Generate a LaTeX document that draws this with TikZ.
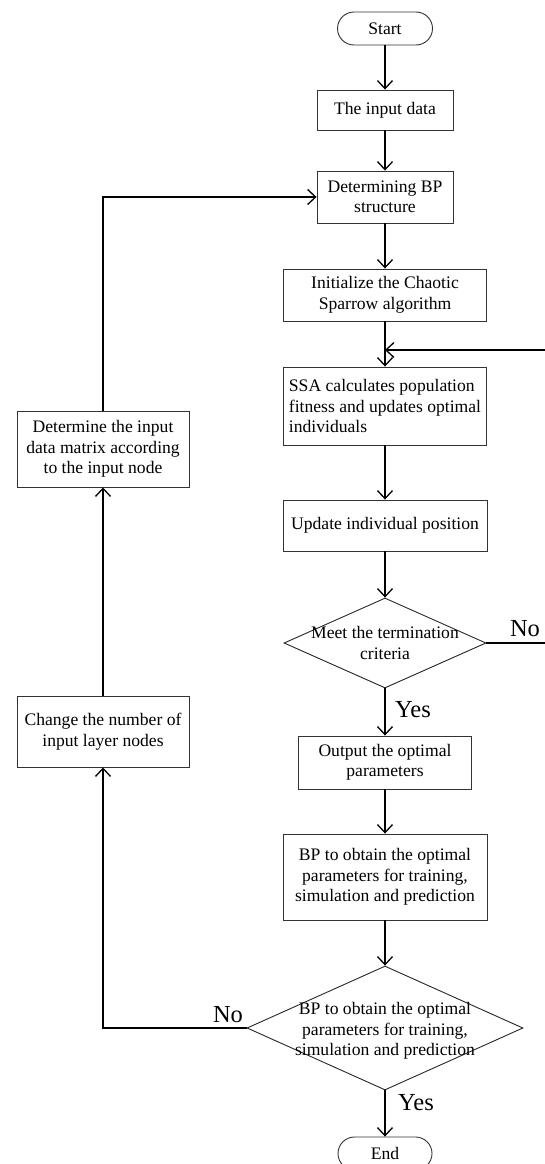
\documentclass[tikz,border=0pt]{standalone}
\usepackage{fontspec}
\setmainfont{Liberation Serif}
\usetikzlibrary{arrows.meta,shapes.geometric}
\begin{document}
\begin{tikzpicture}[x=1pt,y=-1pt,
  box/.style={draw=black!80, line width=0.9pt, rectangle, inner sep=0pt, align=center, font=\fontsize{17.6}{20.5}\selectfont},
  pill/.style={box, rounded corners=16.5pt},
  dia/.style={draw=black!85, line width=0.9pt, diamond, inner sep=0pt},
  txt/.style={font=\fontsize{17.6}{20.5}\selectfont, align=center, inner sep=0pt},
  yn/.style={font=\fontsize{24.5}{28}\selectfont, inner sep=0pt},
  conn/.style={line width=1.3pt, -{Straight Barb[length=8pt,width=15pt]}},
]
\useasboundingbox (0,0) rectangle (544,1164);

\node[pill, minimum width=95pt, minimum height=33pt] (start) at (385,28.5) {Start};
\node[box, minimum width=136pt, minimum height=40pt] (input) at (385,110) {The input data};
\node[box, minimum width=136pt, minimum height=52pt] (det) at (385,197) {Determining BP\\structure};
\node[box, minimum width=203pt, minimum height=52pt] (init) at (385,295) {Initialize the Chaotic\\Sparrow algorithm};
\node[box, minimum width=203pt, minimum height=78pt, align=left] (ssa) at (385,406) {SSA calculates population\\fitness and updates optimal\\individuals};
\node[box, minimum width=204pt, minimum height=51pt] (upd) at (385,525.5) {Update individual position};
\node[dia, minimum width=202pt, minimum height=90pt] (d1) at (385,643) {};
\node[txt] (d1t) at (385,643) {Meet the termination\\criteria};
\node[box, minimum width=173pt, minimum height=53pt] (out) at (385,762.5) {Output the optimal\\parameters};
\node[box, minimum width=204pt, minimum height=86pt] (bp) at (385,877) {BP to obtain the optimal\\parameters for training,\\simulation and prediction};
\node[dia, minimum width=276pt, minimum height=124pt] (d2) at (385,1028) {};
\node[txt] (d2t) at (385,1031) {BP to obtain the optimal\\parameters for training,\\simulation and prediction};
\node[pill, minimum width=94pt, minimum height=33pt] (end) at (385,1153.5) {End};
\node[box, minimum width=172pt, minimum height=76pt] (dim) at (103,449) {Determine the input\\data matrix according\\to the input node};
\node[box, minimum width=172pt, minimum height=71pt] (chg) at (103,731.5) {Change the number of\\input layer nodes};

\coordinate (r1) at (548,643);
\coordinate (r2) at (548,350);
\coordinate (j) at (385,350);
\coordinate (l1) at (103,1028);
\coordinate (l2) at (103,197);

\draw[conn] (start) -- (input);
\draw[conn] (input) -- (det);
\draw[conn] (det) -- (init);
\draw[conn] (init) -- (ssa);
\draw[conn] (ssa) -- (upd);
\draw[conn] (upd) -- (d1);
\draw[conn] (d1) -- (out);
\draw[conn] (out) -- (bp);
\draw[conn] (bp) -- (d2);
\draw[conn] (d2) -- (end);
\draw[conn] (d1.east) -- (r1) -- (r2) -- (j);
\draw[conn] (d2.west) -- (l1) -- (chg.south);
\draw[conn] (chg.north) -- (dim.south);
\draw[conn] (dim.north) -- (l2) -- (det.west);

\node[yn] (y1) at (413,710) {Yes};
\node[yn] (n1) at (525,629) {No};
\node[yn] (y2) at (416,1103) {Yes};
\node[yn] (n2) at (228,1015) {No};
\end{tikzpicture}
\end{document}
